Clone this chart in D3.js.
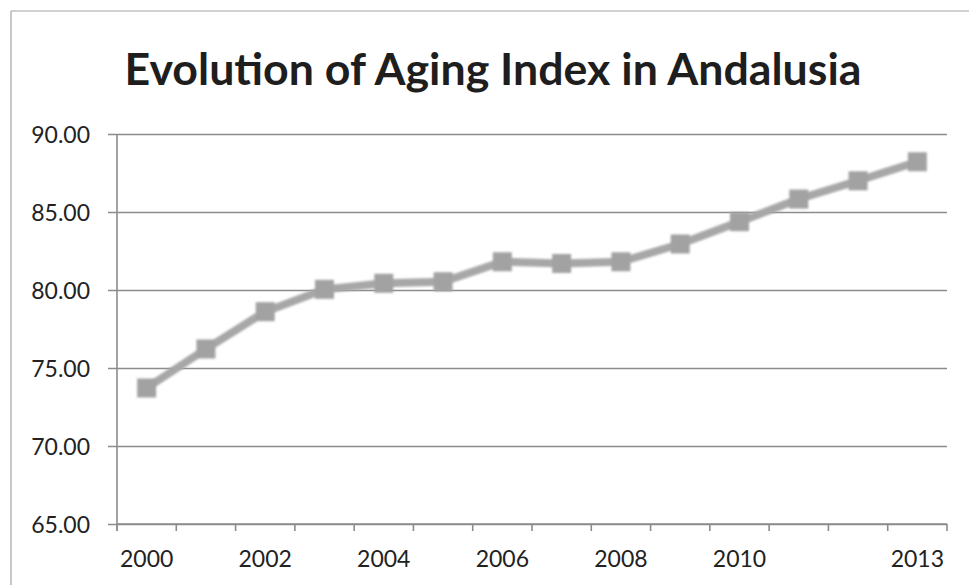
<!DOCTYPE html>
<html>
<head>
<meta charset="utf-8">
<script src="https://cdn.jsdelivr.net/npm/d3@7/dist/d3.min.js"></script>
<style>
  html, body { margin: 0; padding: 0; background: #fff; }
  svg { display: block; }
</style>
</head>
<body>
<svg id="chart" width="969" height="585"></svg>
<script>
// Aging index of Andalusia, 2000-2013
const years = [2000, 2001, 2002, 2003, 2004, 2005, 2006, 2007, 2008, 2009, 2010, 2011, 2012, 2013];
const agingIndex = [73.72, 76.22, 78.61, 80.04, 80.43, 80.53, 81.81, 81.70, 81.81, 82.95, 84.38, 85.83, 87.00, 88.22];
const yTicks = [65, 70, 75, 80, 85, 90];
const xLabelYears = [2000, 2002, 2004, 2006, 2008, 2010, 2013];
const titleText = "Evolution of Aging Index in Andalusia";

const svg = d3.select("#chart");
const W = 969, H = 585;
const plot = { left: 117, right: 947, top: 134, bottom: 524 };

const x = d3.scaleBand().domain(years).range([plot.left, plot.right]).padding(0);
const y = d3.scaleLinear().domain([65, 90]).range([plot.bottom, plot.top]);

const defs = svg.append("defs");
defs.append("filter").attr("id", "soft")
  .attr("x", "-10%").attr("y", "-10%").attr("width", "120%").attr("height", "120%")
  .append("feGaussianBlur").attr("stdDeviation", 0.9);

// chart frame (left and top edges)
svg.append("line").attr("x1", 11).attr("x2", 11).attr("y1", 11).attr("y2", H)
  .attr("stroke", "#a3a3a3").attr("stroke-width", 1.2);
svg.append("line").attr("x1", 11).attr("x2", W).attr("y1", 11).attr("y2", 11)
  .attr("stroke", "#a3a3a3").attr("stroke-width", 1.2);

// title, sized to its box
const title = svg.append("text")
  .attr("x", 493).attr("y", 85)
  .attr("text-anchor", "middle")
  .attr("font-family", "Lato, 'Open Sans', sans-serif")
  .attr("font-weight", "bold")
  .attr("font-size", 42)
  .attr("fill", "#1e1e1e")
  .text(titleText);
const tw = title.node().getComputedTextLength();
title.attr("font-size", 42 * 737 / tw);

// horizontal gridlines with left tick stubs
const yAxis = d3.axisLeft(y).tickValues(yTicks)
  .tickSize(plot.right - plot.left + 9)
  .tickFormat(d3.format(".2f"));
const gy = svg.append("g").attr("transform", `translate(${plot.right},0)`).call(yAxis);
gy.select(".domain").remove();
gy.selectAll(".tick line").attr("stroke", "#8c8c8c").attr("stroke-width", 1.6);
gy.selectAll(".tick text")
  .attr("x", -(plot.right - 90))
  .attr("dy", "0.36em")
  .attr("font-family", "Lato, 'Open Sans', sans-serif")
  .attr("font-size", 23)
  .attr("fill", "#222");

// vertical axis line
svg.append("line").attr("x1", plot.left).attr("x2", plot.left)
  .attr("y1", plot.top).attr("y2", plot.bottom + 7)
  .attr("stroke", "#8c8c8c").attr("stroke-width", 1.6);

// category axis: ticks on band boundaries, labels on band centres
const boundaries = years.map(d => x(d)).concat([plot.right]);
const gx = svg.append("g");
gx.append("line").attr("x1", plot.left).attr("x2", plot.right)
  .attr("y1", plot.bottom).attr("y2", plot.bottom)
  .attr("stroke", "#8c8c8c").attr("stroke-width", 1.6);
gx.selectAll("line.tk").data(boundaries).join("line").attr("class", "tk")
  .attr("x1", d => d).attr("x2", d => d)
  .attr("y1", plot.bottom).attr("y2", plot.bottom + 7)
  .attr("stroke", "#8c8c8c").attr("stroke-width", 1.6);
gx.selectAll("text").data(xLabelYears).join("text")
  .attr("x", d => x(d) + x.bandwidth() / 2)
  .attr("y", 567)
  .attr("text-anchor", "middle")
  .attr("font-family", "Lato, 'Open Sans', sans-serif")
  .attr("font-size", 23)
  .attr("fill", "#222")
  .text(d => d);

// series line with square markers
const pts = years.map((yr, i) => ({ yr, v: agingIndex[i] }));
const cx = d => x(d.yr) + x.bandwidth() / 2;
const series = svg.append("g").attr("filter", "url(#soft)");
series.append("path")
  .datum(pts)
  .attr("fill", "none")
  .attr("stroke", "#a7a7a7")
  .attr("stroke-width", 8)
  .attr("stroke-linejoin", "round")
  .attr("d", d3.line().x(cx).y(d => y(d.v)));
const ms = 19;
series.selectAll("rect").data(pts).join("rect")
  .attr("x", d => cx(d) - ms / 2)
  .attr("y", d => y(d.v) - ms / 2)
  .attr("width", ms).attr("height", ms)
  .attr("fill", "#a2a2a2");
</script>
</body>
</html>
